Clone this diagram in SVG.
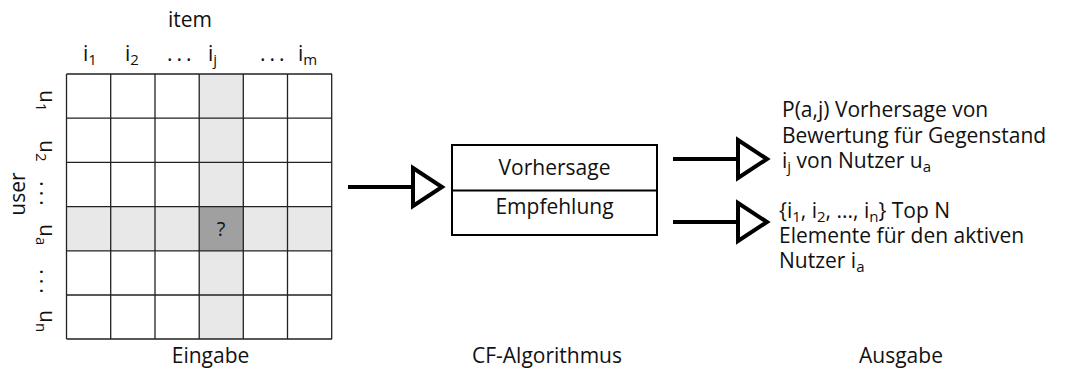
<svg xmlns="http://www.w3.org/2000/svg" width="1065" height="371" viewBox="0 0 1065 371">
  <style>
    text { font-family: "Open Sans", "Noto Sans", "Liberation Sans", sans-serif; font-size: 21px; fill: #111; }
    .sub { font-size: 15px; }
    .grid { fill: none; stroke: #222; stroke-width: 1.3; }
    .hl { fill: #e8e8e8; }
    .q { fill: #a0a0a0; }
    .shaft { stroke: #000; stroke-width: 4; fill: none; }
    .head { fill: #fff; stroke: #000; stroke-width: 4; stroke-linejoin: miter; }
    .box { fill: #fff; stroke: #000; stroke-width: 2; }
    .dots { letter-spacing: 4px; }
  </style>

  <!-- rating matrix: users x items -->
  <g id="matrix">
    <rect x="66.5" y="74" width="265.5" height="265" fill="#fff"/>
    <!-- highlighted item column j and active user row a -->
    <rect class="hl" x="199" y="74" width="44.2" height="265"/>
    <rect class="hl" x="66.5" y="206.6" width="265.5" height="44.2"/>
    <rect class="q" x="199" y="206.6" width="44.2" height="44.2"/>
    <text x="221" y="236" text-anchor="middle" style="font-size:20px">?</text>
    <path class="grid" d="M66.5 74H332M66.5 118.2H332M66.5 162.4H332M66.5 206.6H332M66.5 250.8H332M66.5 295H332M66.5 339H332
                          M66.5 74V339M110.7 74V339M155 74V339M199.2 74V339M243.3 74V339M287.5 74V339M331.7 74V339"/>
  </g>

  <!-- column labels -->
  <g id="items">
    <text x="190" y="27" text-anchor="middle">item</text>
    <text x="83" y="61">i<tspan class="sub" dy="4">1</tspan></text>
    <text x="125" y="61">i<tspan class="sub" dy="4">2</tspan></text>
    <text x="167" y="61" class="dots">...</text>
    <text x="208" y="61">i<tspan class="sub" dy="4">j</tspan></text>
    <text x="260" y="61" class="dots">...</text>
    <text x="298" y="61">i<tspan class="sub" dy="4">m</tspan></text>
  </g>

  <!-- row labels -->
  <g id="users">
    <text transform="translate(25 194) rotate(-90)" text-anchor="middle">user</text>
    <text transform="translate(40 90) rotate(90)">u<tspan class="sub" dy="4">1</tspan></text>
    <text transform="translate(40 140) rotate(90)">u<tspan class="sub" dy="4">2</tspan></text>
    <text transform="translate(40 181) rotate(90)" class="dots">...</text>
    <text transform="translate(40 224) rotate(90)">u<tspan class="sub" dy="4">a</tspan></text>
    <text transform="translate(40 269) rotate(90)" class="dots">...</text>
    <text transform="translate(40 310) rotate(90)">u<tspan class="sub" dy="4">n</tspan></text>
  </g>

  <text x="210.5" y="363" text-anchor="middle">Eingabe</text>

  <!-- algorithm block -->
  <g id="algorithm">
    <rect class="box" x="452" y="145" width="205" height="90"/>
    <line x1="452" y1="190.5" x2="657" y2="190.5" stroke="#000" stroke-width="2"/>
    <text x="554.5" y="175" text-anchor="middle">Vorhersage</text>
    <text x="554.5" y="214" text-anchor="middle">Empfehlung</text>
  </g>
  <text x="547" y="363" text-anchor="middle">CF-Algorithmus</text>

  <!-- outputs -->
  <g id="prediction">
    <text x="782" y="117">P(a,j) Vorhersage von</text>
    <text x="782" y="143">Bewertung für Gegenstand</text>
    <text x="782" y="168">i<tspan class="sub" dy="4">j</tspan><tspan dy="-4"> von Nutzer u</tspan><tspan class="sub" dy="4">a</tspan></text>
  </g>
  <g id="recommendation">
    <text x="779" y="218">{i<tspan class="sub" dy="4">1</tspan><tspan dy="-4">, i</tspan><tspan class="sub" dy="4">2</tspan><tspan dy="-4">, ..., i</tspan><tspan class="sub" dy="4">n</tspan><tspan dy="-4">} Top N</tspan></text>
    <text x="779" y="243">Elemente für den aktiven</text>
    <text x="779" y="268">Nutzer i<tspan class="sub" dy="4">a</tspan></text>
  </g>
  <text x="901" y="363" text-anchor="middle">Ausgabe</text>

  <!-- connectors -->
  <g id="connectors">
    <line class="shaft" x1="348" y1="187" x2="413" y2="187"/>
    <path class="head" d="M413 168L442 187L413 206Z"/>
    <line class="shaft" x1="673" y1="159" x2="738" y2="159"/>
    <path class="head" d="M738 140L767 159L738 178Z"/>
    <line class="shaft" x1="673" y1="222" x2="738" y2="222"/>
    <path class="head" d="M738 203L767 222L738 241Z"/>
  </g>
</svg>
